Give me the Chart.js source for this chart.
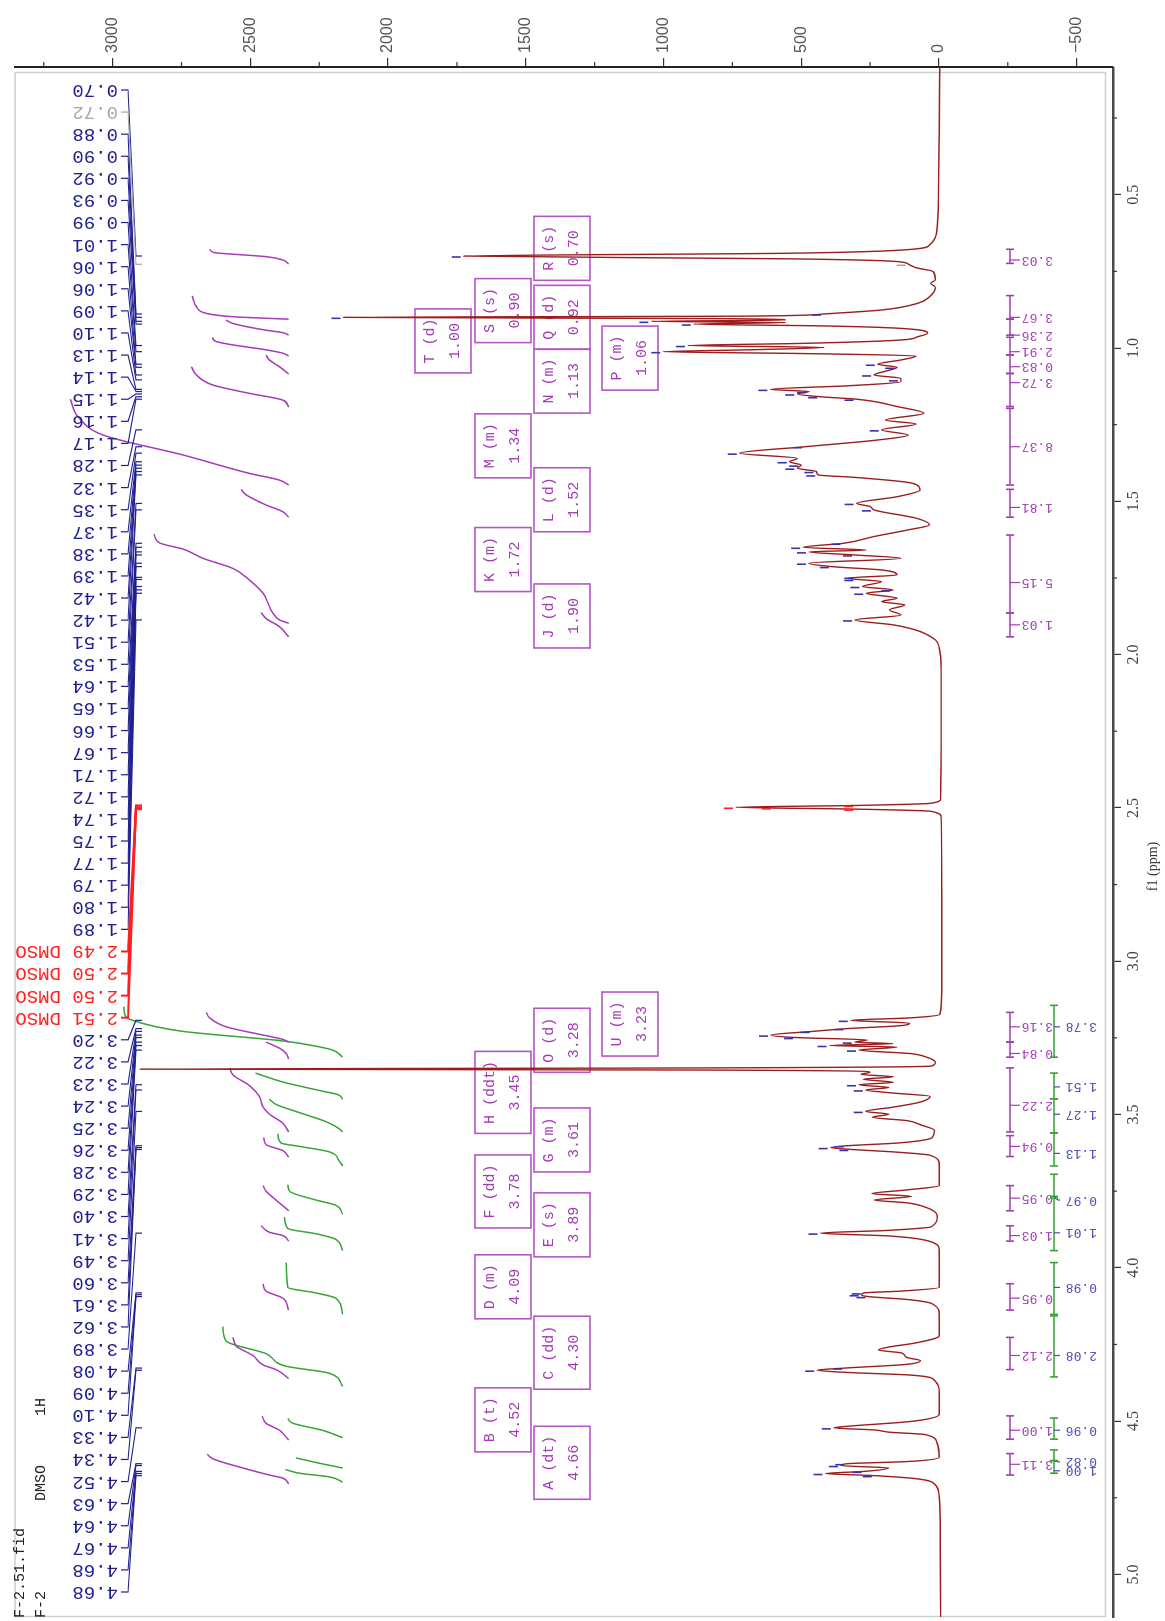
<!DOCTYPE html>
<html><head><meta charset="utf-8">
<script src="https://cdn.jsdelivr.net/npm/chart.js@4/dist/chart.umd.min.js"></script>
<style>
html,body{margin:0;padding:0;background:#fff;overflow:hidden;}
#wrap{position:absolute;left:0;top:0;width:1621px;height:1165px;transform-origin:0 0;transform:translateY(1621px) rotate(-90deg);}
canvas{display:block;}
</style></head><body>
<div id="wrap"><canvas id="c" width="1621" height="1165"></canvas></div>
<script>
// ---------- DATA ----------
const ppmTicks = [0.5,1.0,1.5,2.0,2.5,3.0,3.5,4.0,4.5,5.0];
const intensityTicks = [3000,2500,2000,1500,1000,500,0,-500];

const spectrumPpm = [0.083,0.3,0.517,0.626,0.664,0.678,0.691,0.700,0.709,0.718,0.727,0.738,0.751,0.778,0.789,0.802,0.833,0.854,0.876,0.889,0.896,0.900,0.904,0.909,0.913,0.917,0.922,0.928,0.936,0.952,0.963,0.974,0.985,0.992,0.998,1.006,1.012,1.018,1.026,1.039,1.053,1.063,1.074,1.088,1.099,1.110,1.123,1.135,1.142,1.150,1.159,1.167,1.191,1.213,1.235,1.248,1.267,1.284,1.300,1.322,1.343,1.360,1.371,1.382,1.392,1.403,1.414,1.422,1.441,1.463,1.485,1.507,1.517,1.528,1.555,1.577,1.593,1.615,1.637,1.650,1.659,1.665,1.675,1.686,1.702,1.713,1.724,1.740,1.751,1.762,1.778,1.789,1.800,1.816,1.827,1.838,1.854,1.871,1.887,1.903,1.920,1.952,1.979,2.05,2.3,2.47,2.485,2.492,2.498,2.504,2.511,2.53,2.8,3.1,3.173,3.185,3.193,3.202,3.210,3.220,3.229,3.241,3.249,3.257,3.264,3.269,3.275,3.280,3.290,3.301,3.313,3.330,3.342,3.348,3.352,3.355,3.362,3.369,3.377,3.385,3.395,3.403,3.412,3.420,3.430,3.441,3.459,3.476,3.490,3.499,3.509,3.520,3.534,3.552,3.575,3.593,3.602,3.608,3.614,3.622,3.633,3.663,3.732,3.746,3.758,3.767,3.779,3.788,3.802,3.831,3.866,3.878,3.887,3.896,3.913,3.942,4.064,4.076,4.082,4.088,4.094,4.103,4.117,4.152,4.222,4.245,4.259,4.268,4.278,4.292,4.303,4.315,4.327,4.334,4.341,4.350,4.367,4.408,4.478,4.501,4.517,4.522,4.529,4.536,4.544,4.571,4.618,4.632,4.639,4.645,4.653,4.664,4.671,4.678,4.688,4.705,4.746,4.9,5.139];
const spectrumIntensity = [-3,-1,2,9,34,97,557,1725,557,152,110,83,20,13,30,13,34,76,208,417,695,2162,834,557,1044,557,890,417,138,41,76,138,498,911,417,695,1001,500,83,138,222,152,187,236,138,138,326,612,472,514,431,299,152,55,194,83,208,111,222,486,723,514,542,500,514,445,438,305,97,69,152,299,250,236,83,34,111,236,347,493,264,472,305,138,472,389,208,152,333,208,278,166,264,152,208,124,180,138,305,166,83,13,-1,-8,-8,-6,30,300,737,300,30,-8,-10,-10,
 -4,107,320,107,136,336,459,610,519,260,306,167,397,152,290,107,45,13,27,834,2900,834,
 250,283,166,275,166,290,182,266,166,32,66,166,266,182,241,116,66,16,24,150,335,393,318,166,32,-1,
 -1,117,243,100,235,117,50,6,27,186,430,186,36,-1,
 -1,136,273,281,256,119,25,-1,
 -1,84,185,220,135,118,67,118,340,442,340,101,16,-1,
 -1,100,333,382,233,182,49,7,
 -1,116,333,356,182,270,412,233,82,16,-1,-5,-6];

const peakLabels = ['0.70','0.72','0.88','0.90','0.92','0.93','0.99','1.01','1.06','1.06','1.09','1.10','1.13','1.14','1.15','1.16','1.17','1.28','1.32','1.35','1.37','1.38','1.39','1.42','1.42','1.51','1.53','1.64','1.65','1.66','1.67','1.71','1.72','1.74','1.75','1.77','1.79','1.80','1.89','2.49 DMSO','2.50 DMSO','2.50 DMSO','2.51 DMSO','3.20','3.22','3.23','3.24','3.25','3.26','3.28','3.29','3.40','3.41','3.49','3.60','3.61','3.62','3.89','4.08','4.09','4.10','4.33','4.34','4.52','4.63','4.64','4.67','4.68','4.68'];
const peakPpm = [0.700,0.727,0.889,0.900,0.913,0.922,0.992,1.012,1.053,1.063,1.088,1.104,1.135,1.142,1.150,1.159,1.167,1.267,1.322,1.343,1.371,1.382,1.392,1.403,1.414,1.507,1.528,1.637,1.650,1.665,1.675,1.702,1.713,1.748,1.755,1.778,1.789,1.800,1.887,2.492,2.498,2.500,2.504,3.193,3.220,3.229,3.241,3.249,3.264,3.275,3.290,3.403,3.420,3.490,3.602,3.608,3.614,3.887,4.082,4.088,4.094,4.327,4.334,4.522,4.639,4.645,4.664,4.671,4.678];
const peakHeight = [1725,110,417,2162,1044,890,911,1001,222,152,236,138,612,472,514,431,299,208,486,723,542,500,514,445,438,299,236,347,493,472,305,472,389,300,300,278,166,264,305,300,737,600,300,320,336,459,610,519,306,397,290,290,266,266,335,393,318,430,273,281,256,340,442,382,333,356,270,412,233];

const multipletLabel = ['R (s)','S (s)','T (d)','Q (d)','P (m)','N (m)','M (m)','L (d)','K (m)','J (d)','U (m)','O (d)','H (ddt)','G (m)','F (dd)','E (s)','D (m)','C (dd)','B (t)','A (dt)'];
const multipletShift = ['0.70','0.90','1.00','0.92','1.06','1.13','1.34','1.52','1.72','1.90','3.23','3.28','3.45','3.61','3.78','3.89','4.09','4.30','4.52','4.66'];

const purpleIntegralValue = ['3.03','3.67','2.36','2.91','0.83','3.72','8.37','1.81','5.15','1.03','3.16','0.84','2.22','0.94','0.95','1.03','0.95','2.12','1.00','3.11'];
const purpleRangeFrom = [0.678,0.829,0.906,0.965,1.023,1.083,1.197,1.461,1.610,1.864,3.167,3.264,3.348,3.569,3.732,3.863,4.052,4.227,4.483,4.606];
const purpleRangeTo   = [0.724,0.906,0.958,1.023,1.083,1.191,1.447,1.552,1.864,1.942,3.264,3.313,3.557,3.637,3.814,3.913,4.138,4.332,4.559,4.676];
const greenIntegralValue = ['3.78','1.51','1.27','1.13','0.97','1.01','0.98','2.08','0.96','0.82','1.00'];
const greenRangeFrom = [3.144,3.365,3.449,3.560,3.695,3.773,3.983,4.157,4.490,4.594,4.629];
const greenRangeTo   = [3.313,3.449,3.560,3.668,3.767,3.944,4.152,4.356,4.559,4.629,4.670];

// integral curves (ppm, level on the intensity axis)
const purpleCurvePpm = [
 [0.678,0.689,0.694,0.702,0.713,0.726],
 [0.830,0.865,0.887,0.898,0.906],
 [0.909,0.920,0.942,0.950,0.958],
 [0.966,0.979,0.990,1.006,1.017,1.026],
 [1.023,1.039,1.061,1.085],
 [1.061,1.088,1.121,1.148,1.170,1.193],
 [1.167,1.225,1.284,1.349,1.409,1.431,1.447],
 [1.461,1.479,1.512,1.534,1.552],
 [1.607,1.636,1.656,1.686,1.719,1.757,1.800,1.865,1.887,1.898],
 [1.863,1.882,1.909,1.942],
 [3.167,3.185,3.214,3.243,3.255,3.264],
 [3.264,3.284,3.301,3.319],
 [3.348,3.371,3.406,3.441,3.476,3.499,3.528,3.557],
 [3.575,3.598,3.618,3.639],
 [3.732,3.750,3.779,3.814],
 [3.863,3.884,3.895,3.913],
 [4.053,4.076,4.099,4.138],
 [4.227,4.256,4.286,4.317,4.332,4.361],
 [4.484,4.507,4.530,4.562],
 [4.608,4.623,4.653,4.676,4.686,4.705]
];
const purpleCurveLevel = [
 [2648,2630,2563,2443,2382,2361],
 [2711,2696,2660,2563,2361],
 [2588,2563,2443,2382,2361],
 [2638,2624,2563,2443,2382,2361],
 [2443,2431,2394,2361],
 [2714,2696,2636,2503,2382,2361],
 [3154,3125,3034,2744,2503,2394,2361],
 [2533,2515,2443,2382,2361],
 [2850,2829,2744,2672,2563,2503,2454,2418,2394,2361],
 [2461,2443,2394,2361],
 [2660,2648,2588,2443,2382,2361],
 [2443,2394,2370,2361],
 [2575,2563,2503,2467,2454,2431,2382,2361],
 [2451,2443,2382,2361],
 [2454,2443,2407,2361],
 [2461,2431,2382,2361],
 [2454,2443,2382,2361],
 [2563,2551,2491,2454,2407,2361],
 [2457,2443,2394,2361],
 [2657,2636,2527,2431,2382,2361]
];
const greenCurvePpm = [
 [3.148,3.175,3.192,3.229,3.260,3.277,3.290,3.313],
 [3.365,3.394,3.424,3.435,3.450],
 [3.450,3.467,3.494,3.523,3.546,3.557],
 [3.563,3.593,3.604,3.622,3.651,3.668],
 [3.729,3.750,3.779,3.796,3.826],
 [3.835,3.872,3.889,3.907,3.944],
 [3.983,4.064,4.082,4.099,4.152],
 [4.192,4.239,4.280,4.321,4.344,4.387],
 [4.492,4.507,4.530,4.554],
 [4.620,4.635,4.653],
 [4.658,4.670,4.682,4.699]
];
const greenCurveLevel = [
 [2959,2955,2931,2744,2382,2263,2201,2165],
 [2481,2382,2238,2183,2165],
 [2431,2407,2322,2226,2178,2165],
 [2400,2389,2322,2213,2178,2165],
 [2364,2358,2262,2190,2165],
 [2376,2364,2262,2190,2165],
 [2370,2364,2262,2190,2165],
 [2600,2588,2443,2370,2213,2165],
 [2364,2346,2238,2165],
 [2334,2262,2165],
 [2373,2322,2213,2165]
];

// ---------- LAYOUT (positions, not data) ----------
const boxCenterPpm = [0.675,0.878,0.977,0.900,1.033,1.108,1.319,1.495,1.690,1.874,3.205,3.258,3.428,3.583,3.751,3.860,4.062,4.277,4.496,4.636];
const boxRow = [0,1,2,0,3,0,1,0,1,0,3,0,1,0,1,0,1,0,1,0];
const boxRowTop = [534,475,415,602];
const purpleLabelPpm = [0.713,0.900,0.958,1.012,1.061,1.113,1.322,1.520,1.765,1.903,3.214,3.301,3.470,3.604,3.773,3.895,4.099,4.286,4.530,4.641];
const greenLabelPpm = [3.214,3.410,3.499,3.627,3.779,3.886,4.064,4.286,4.530,4.633,4.662];

const MONO = '"Liberation Mono", "DejaVu Sans Mono", monospace';
const C_SPEC = '#9b1d1d', C_PURPLE = '#a63bb8', C_GREEN = '#36a336', C_NAVY = '#1f1f8f';

function vtext(ctx, s, u, v, color, font){
  ctx.save(); ctx.translate(u, v); ctx.rotate(-Math.PI/2);
  ctx.font = font; ctx.fillStyle = color; ctx.textAlign = 'left'; ctx.textBaseline = 'middle';
  ctx.fillText(s, 0, 0); ctx.restore();
}

const annot = {
  id: 'annot',
  beforeDatasetsDraw(chart){
    const {ctx, chartArea: ca, scales: {x, y}} = chart;
    ctx.save();
    ctx.strokeStyle = '#c6d4c6'; ctx.lineWidth = 1.5;
    ctx.strokeRect(ca.left + 0.5, ca.top + 0.5, ca.right - 6 - ca.left, ca.bottom - 8 - ca.top);
    ctx.font = '15px ' + MONO;
    multipletLabel.forEach((lab, i) => {
      const cx = x.getPixelForValue(boxCenterPpm[i]);
      const top = boxRowTop[boxRow[i]];
      const w = Math.max(ctx.measureText(lab).width, ctx.measureText(multipletShift[i]).width) + 19;
      ctx.strokeStyle = '#b455c6'; ctx.lineWidth = 1.6;
      ctx.strokeRect(cx - w/2, top, w, 56);
      ctx.fillStyle = '#a13cb3'; ctx.textAlign = 'center'; ctx.textBaseline = 'middle';
      ctx.fillText(lab, cx, top + 15);
      ctx.fillText(multipletShift[i], cx, top + 40);
    });
    ctx.restore();
  },
  afterDraw(chart){
    const {ctx, chartArea: ca, scales: {x, y}} = chart;
    ctx.save();
    ctx.strokeStyle = '#333'; ctx.lineWidth = 1.2;
    for (let k = 0; k < ppmTicks.length; k++){
      const px = x.getPixelForValue(ppmTicks[k] - 0.25);
      ctx.beginPath(); ctx.moveTo(px, ca.bottom); ctx.lineTo(px, ca.bottom + 4); ctx.stroke();
    }
    for (let k = 0; k < intensityTicks.length; k++){
      const py = y.getPixelForValue(intensityTicks[k] + 250);
      ctx.beginPath(); ctx.moveTo(ca.right, py); ctx.lineTo(ca.right + 5, py); ctx.stroke();
    }
    const n = peakLabels.length;
    const uFirst = ca.right - 23, uLast = ca.left + 25;
    const lf = '19px ' + MONO;
    for (let i = 0; i < n; i++){
      const u = uFirst + (uLast - uFirst) * i / (n - 1);
      const isD = peakLabels[i].indexOf('DMSO') >= 0;
      const col = isD ? '#ff2020' : (i === 1 ? '#a8a8a8' : C_NAVY);
      vtext(ctx, peakLabels[i], u, 118, col, lf);
      const up = x.getPixelForValue(peakPpm[i]);
      ctx.strokeStyle = col; ctx.lineWidth = isD ? 2 : 1.2;
      ctx.beginPath(); ctx.moveTo(u, 121); ctx.lineTo(u, 128); ctx.lineTo(up, 136); ctx.lineTo(up, 142); ctx.stroke();
      const vt = y.getPixelForValue(peakHeight[i]);
      ctx.strokeStyle = isD ? '#ff2020' : (i === 1 ? '#a8a8a8' : '#3434b0'); ctx.lineWidth = 1.6;
      ctx.beginPath(); ctx.moveTo(up - 1, vt - 3); ctx.lineTo(up - 1, vt - 12); ctx.stroke();
    }
    function bracket(from, to, v, color){
      const a = x.getPixelForValue(from), b = x.getPixelForValue(to);
      ctx.strokeStyle = color; ctx.lineWidth = 1.6;
      ctx.beginPath(); ctx.moveTo(a, v); ctx.lineTo(b, v);
      ctx.moveTo(a, v - 4); ctx.lineTo(a, v + 4); ctx.moveTo(b, v - 4); ctx.lineTo(b, v + 4); ctx.stroke();
    }
    const inf = '13px ' + MONO;
    purpleIntegralValue.forEach((t, i) => {
      bracket(purpleRangeFrom[i], purpleRangeTo[i], 1010, C_PURPLE);
      const ul = x.getPixelForValue(purpleLabelPpm[i]);
      const a = x.getPixelForValue(purpleRangeFrom[i]), b = x.getPixelForValue(purpleRangeTo[i]);
      const us = Math.min(Math.max(ul, Math.min(a,b)), Math.max(a,b));
      ctx.strokeStyle = C_PURPLE; ctx.lineWidth = 1.2;
      ctx.beginPath(); ctx.moveTo(us, 1010); ctx.lineTo(ul, 1017); ctx.lineTo(ul, 1020); ctx.stroke();
      vtext(ctx, t, ul, 1053, '#a646b6', inf);
    });
    greenIntegralValue.forEach((t, i) => {
      bracket(greenRangeFrom[i], greenRangeTo[i], 1054, C_GREEN);
      const ul = x.getPixelForValue(greenLabelPpm[i]);
      const a = x.getPixelForValue(greenRangeFrom[i]), b = x.getPixelForValue(greenRangeTo[i]);
      const us = Math.min(Math.max(ul, Math.min(a,b)), Math.max(a,b));
      ctx.strokeStyle = '#4a4ab4'; ctx.lineWidth = 1.2;
      ctx.beginPath(); ctx.moveTo(us, 1054); ctx.lineTo(ul, 1058); ctx.lineTo(ul, 1060); ctx.stroke();
      vtext(ctx, t, ul, 1097, '#5252b6', inf);
    });
    ctx.fillStyle = '#222'; ctx.font = '15px ' + MONO; ctx.textAlign = 'left'; ctx.textBaseline = 'middle';
    ctx.fillText('F-2.51.fid', 3, 20);
    ctx.fillText('F-2', 3, 41);
    ctx.fillText('DMSO', 120, 41);
    ctx.fillText('1H', 205, 41);
    ctx.restore();
  }
};

const datasets = [];
datasets.push({
  data: spectrumPpm.map((p, i) => ({x: p, y: spectrumIntensity[i]})),
  borderColor: C_SPEC, borderWidth: 1.4, pointRadius: 0, showLine: true,
  cubicInterpolationMode: 'monotone'
});
purpleCurvePpm.forEach((arr, k) => datasets.push({
  data: arr.map((p, i) => ({x: p, y: purpleCurveLevel[k][i]})),
  borderColor: C_PURPLE, borderWidth: 1.5, pointRadius: 0, showLine: true, cubicInterpolationMode: 'monotone'
}));
greenCurvePpm.forEach((arr, k) => datasets.push({
  data: arr.map((p, i) => ({x: p, y: greenCurveLevel[k][i]})),
  borderColor: C_GREEN, borderWidth: 1.5, pointRadius: 0, showLine: true, cubicInterpolationMode: 'monotone'
}));

new Chart(document.getElementById('c'), {
  type: 'scatter',
  data: {datasets},
  options: {
    responsive: false, animation: false, events: [],
    layout: {padding: {left: 4, top: 11, right: 0, bottom: 0}},
    plugins: {legend: {display: false}, tooltip: {enabled: false}},
    scales: {
      x: {
        type: 'linear', position: 'bottom', reverse: true, min: 0.0835, max: 5.139,
        afterBuildTicks: s => { s.ticks = ppmTicks.map(v => ({value: v})); },
        afterFit: s => { s.height = 52; },
        grid: {display: true, drawOnChartArea: false, drawTicks: true, tickLength: 8, color: '#333', lineWidth: 1.2},
        border: {display: true, color: '#4a4a4a', width: 2.5},
        ticks: {font: {family: '"Liberation Serif", serif', size: 16}, color: '#444', padding: 3, maxRotation: 0, autoSkip: false,
                callback: v => Number(v).toFixed(1)},
        title: {display: true, text: 'f1 (ppm)' + '\u00a0'.repeat(14), font: {family: '"Liberation Serif", serif', size: 14}, color: '#333', padding: {top: 0, bottom: 3}}
      },
      y: {
        type: 'linear', position: 'right', min: -632, max: 3356,
        afterBuildTicks: s => { s.ticks = intensityTicks.map(v => ({value: v})); },
        afterFit: s => { s.width = 67; },
        grid: {display: true, drawOnChartArea: false, drawTicks: true, tickLength: 9, color: '#333', lineWidth: 1.2},
        border: {display: true, color: '#222', width: 2},
        ticks: {font: {family: '"Liberation Sans", sans-serif', size: 16}, color: '#555', padding: 5,
                callback: v => v < 0 ? '\u2212' + Math.abs(v) : String(v)}
      }
    }
  },
  plugins: [annot]
});
</script>
</body></html>
